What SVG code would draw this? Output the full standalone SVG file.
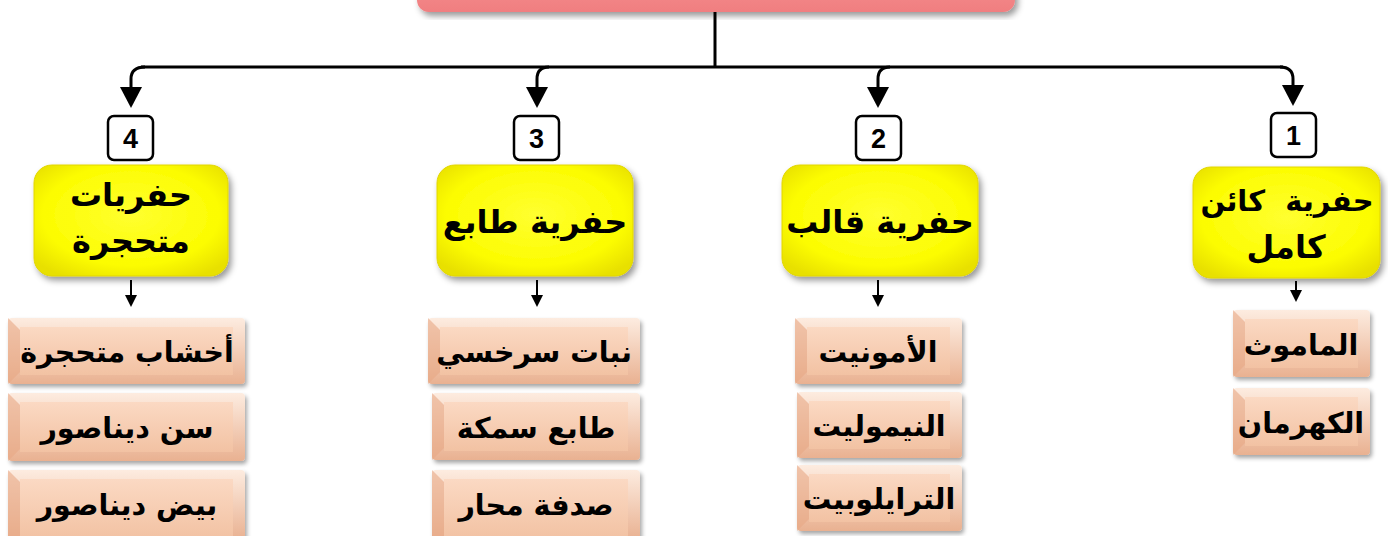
<svg xmlns="http://www.w3.org/2000/svg" width="1388" height="536" viewBox="0 0 1388 536">
<style>
.conn{fill:none;stroke:#000;stroke-width:3}
.conn2{fill:none;stroke:#000;stroke-width:2}
.num{fill:#fff;stroke:#000;stroke-width:2.5}
.numt{font-family:"Liberation Sans",Arial,sans-serif;font-weight:bold;font-size:27px;fill:#000;text-anchor:middle}
.yt{font-family:"DejaVu Sans","Noto Sans",sans-serif;font-weight:bold;font-size:32px;fill:#000;text-anchor:middle}
.pt{font-family:"DejaVu Sans","Noto Sans",sans-serif;font-weight:bold;font-size:28.5px;fill:#000;text-anchor:middle}
.ybox{fill:url(#yg);stroke:#e2d600;stroke-width:1;filter:url(#sh)}
.pout{fill:url(#po);filter:url(#sh2)}
.pin{fill:url(#pi)}
.pl{fill:#e7a886;opacity:.6}
</style>
<defs>
<radialGradient id="yg" cx="50%" cy="45%" r="65%">
<stop offset="0" stop-color="#ffff30"/>
<stop offset="0.7" stop-color="#fcfc00"/>
<stop offset="1" stop-color="#e8e000"/>
</radialGradient>
<linearGradient id="po" x1="0" y1="0" x2="0" y2="1">
<stop offset="0" stop-color="#fdece0"/>
<stop offset="1" stop-color="#e9b191"/>
</linearGradient>
<linearGradient id="pi" x1="0" y1="0" x2="0" y2="1">
<stop offset="0" stop-color="#fbd9c3"/>
<stop offset="1" stop-color="#f2c2a3"/>
</linearGradient>
<linearGradient id="rg" x1="0" y1="0" x2="0" y2="1">
<stop offset="0" stop-color="#f58f8f"/>
<stop offset="1" stop-color="#f07e80"/>
</linearGradient>
<filter id="sh" x="-10%" y="-10%" width="125%" height="130%">
<feDropShadow dx="3" dy="4" stdDeviation="3" flood-color="#000" flood-opacity="0.4"/>
</filter>
<filter id="sh2" x="-10%" y="-10%" width="125%" height="130%">
<feDropShadow dx="2" dy="3" stdDeviation="2" flood-color="#000" flood-opacity="0.35"/>
</filter>
<marker id="ah" viewBox="0 0 21 22" markerWidth="21" markerHeight="22" refX="9" refY="11" orient="auto" markerUnits="userSpaceOnUse">
<path d="M0,0 L21,11 L0,22 Z" fill="#000"/>
</marker>
<marker id="ahs" viewBox="0 0 12 12" markerWidth="12" markerHeight="12" refX="4" refY="6" orient="auto" markerUnits="userSpaceOnUse">
<path d="M0,0 L12,6 L0,12 Z" fill="#000"/>
</marker>
</defs>
<rect width="1388" height="536" fill="#fff"/>

<g id="root">
<rect x="417" y="-24" width="598" height="36" rx="12" fill="url(#rg)" filter="url(#sh)"/>
</g>

<g id="connectors">
<path class="conn" d="M715,12 V67"/>
<path class="conn" d="M141,67 H1283"/>
<path class="conn" d="M145,67 Q131,67 131,79 V96" marker-end="url(#ah)"/>
<path class="conn" d="M549,67 Q537,67 537,79 V96" marker-end="url(#ah)"/>
<path class="conn" d="M890,67 Q878,67 878,79 V96" marker-end="url(#ah)"/>
<path class="conn" d="M1280,67 Q1293,67 1293,79 V94" marker-end="url(#ah)"/>
<path class="conn2" d="M131,280 V299" marker-end="url(#ahs)"/>
<path class="conn2" d="M537,280 V299" marker-end="url(#ahs)"/>
<path class="conn2" d="M878,280 V299" marker-end="url(#ahs)"/>
<path class="conn2" d="M1296,281 V294" marker-end="url(#ahs)"/>
</g>

<g id="n4">
<rect class="num" x="108" y="116" width="45" height="44" rx="6"/>
<text class="numt" x="130.5" y="148">4</text>
</g>
<g id="n3">
<rect class="num" x="514" y="116" width="45" height="44" rx="6"/>
<text class="numt" x="536.5" y="148">3</text>
</g>
<g id="n2">
<rect class="num" x="856" y="116" width="45" height="44" rx="6"/>
<text class="numt" x="878.5" y="148">2</text>
</g>
<g id="n1">
<rect class="num" x="1271" y="113" width="45" height="44" rx="6"/>
<text class="numt" x="1293.5" y="145">1</text>
</g>

<g id="cat4">
<rect class="ybox" x="34" y="165" width="194" height="111" rx="18"/>
<text class="yt" x="131" y="206" direction="rtl">حفريات</text>
<text class="yt" x="131" y="252" direction="rtl">متحجرة</text>
</g>
<g id="cat3">
<rect class="ybox" x="437" y="165" width="196" height="111" rx="18"/>
<text class="yt" x="535" y="233" direction="rtl">حفرية طابع</text>
</g>
<g id="cat2">
<rect class="ybox" x="782" y="165" width="196" height="111" rx="18"/>
<text class="yt" x="880" y="233" direction="rtl">حفرية قالب</text>
</g>
<g id="cat1">
<rect class="ybox" x="1193" y="167" width="187" height="111" rx="18"/>
<text class="yt" x="1287" y="211" direction="rtl" xml:space="preserve" style="font-size:29px">حفرية  كائن</text>
<text class="yt" x="1286" y="258" direction="rtl">كامل</text>
</g>

<g id="i4a">
<rect class="pout" x="8" y="318" width="237" height="66" rx="4"/>
<path class="pl" d="M8,318 L20,330 L20,372 L8,384 Z"/>
<rect class="pin" x="20" y="327" width="213" height="48"/>
<text class="pt" x="127" y="362" direction="rtl">أخشاب متحجرة</text>
</g>
<g id="i4b">
<rect class="pout" x="8" y="393" width="237" height="68" rx="4"/>
<path class="pl" d="M8,393 L20,405 L20,449 L8,461 Z"/>
<rect class="pin" x="20" y="402" width="213" height="50"/>
<text class="pt" x="127" y="438" direction="rtl">سن ديناصور</text>
</g>
<g id="i4c">
<rect class="pout" x="8" y="470" width="237" height="70" rx="4"/>
<path class="pl" d="M8,470 L20,482 L20,540 L8,540 Z"/>
<rect class="pin" x="20" y="479" width="213" height="60"/>
<text class="pt" x="127" y="515" direction="rtl">بيض ديناصور</text>
</g>

<g id="i3a">
<rect class="pout" x="428" y="318" width="212" height="66" rx="4"/>
<path class="pl" d="M428,318 L440,330 L440,372 L428,384 Z"/>
<rect class="pin" x="440" y="327" width="188" height="48"/>
<text class="pt" x="534" y="362" direction="rtl">نبات سرخسي</text>
</g>
<g id="i3b">
<rect class="pout" x="432" y="393" width="208" height="67" rx="4"/>
<path class="pl" d="M432,393 L444,405 L444,448 L432,460 Z"/>
<rect class="pin" x="444" y="402" width="184" height="49"/>
<text class="pt" x="536" y="438" direction="rtl">طابع سمكة</text>
</g>
<g id="i3c">
<rect class="pout" x="432" y="470" width="208" height="70" rx="4"/>
<path class="pl" d="M432,470 L444,482 L444,540 L432,540 Z"/>
<rect class="pin" x="444" y="479" width="184" height="60"/>
<text class="pt" x="536" y="515" direction="rtl">صدفة محار</text>
</g>

<g id="i2a">
<rect class="pout" x="795" y="318" width="167" height="66" rx="4"/>
<path class="pl" d="M795,318 L807,330 L807,372 L795,384 Z"/>
<rect class="pin" x="807" y="327" width="143" height="48"/>
<text class="pt" x="878" y="362" direction="rtl">الأمونيت</text>
</g>
<g id="i2b">
<rect class="pout" x="797" y="392" width="165" height="66" rx="4"/>
<path class="pl" d="M797,392 L809,404 L809,446 L797,458 Z"/>
<rect class="pin" x="809" y="401" width="141" height="48"/>
<text class="pt" x="879" y="436" direction="rtl">النيموليت</text>
</g>
<g id="i2c">
<rect class="pout" x="797" y="465" width="165" height="66" rx="4"/>
<path class="pl" d="M797,465 L809,477 L809,519 L797,531 Z"/>
<rect class="pin" x="809" y="474" width="141" height="48"/>
<text class="pt" x="879" y="509" direction="rtl">الترايلوبيت</text>
</g>

<g id="i1a">
<rect class="pout" x="1233" y="310" width="137" height="67" rx="4"/>
<path class="pl" d="M1233,310 L1245,322 L1245,365 L1233,377 Z"/>
<rect class="pin" x="1245" y="319" width="113" height="49"/>
<text class="pt" x="1301" y="355" direction="rtl">الماموث</text>
</g>
<g id="i1b">
<rect class="pout" x="1233" y="388" width="137" height="67" rx="4"/>
<path class="pl" d="M1233,388 L1245,400 L1245,443 L1233,455 Z"/>
<rect class="pin" x="1245" y="397" width="113" height="49"/>
<text class="pt" x="1301" y="433" direction="rtl">الكهرمان</text>
</g>
</svg>
